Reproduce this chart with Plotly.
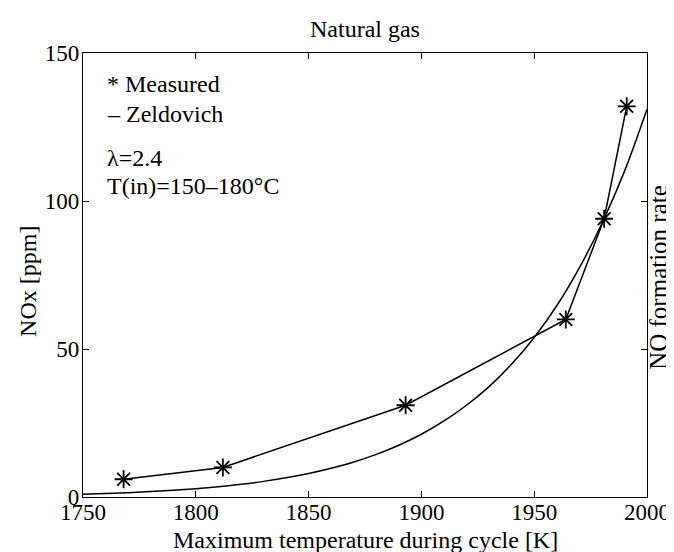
import plotly.graph_objects as go

# Measured data
meas_T = [1768, 1812, 1893, 1964, 1981, 1991]
meas_nox = [6, 10, 31, 60, 94, 132]

# Zeldovich curve
zel_T = [1750, 1760, 1770, 1780, 1790, 1800, 1810, 1820, 1830, 1840, 1850,
         1860, 1870, 1880, 1890, 1900, 1910, 1920, 1930, 1940, 1950,
         1960, 1970, 1980, 1990, 2000]
zel_nox = [0.94, 1.18, 1.47, 1.83, 2.27, 2.81, 3.48, 4.29, 5.28, 6.48, 7.94,
           9.71, 11.8, 14.4, 17.5, 21.2, 25.7, 31.0, 37.3, 44.9, 53.9,
           64.6, 77.4, 92.4, 110, 131]

x_ticks = [1750, 1800, 1850, 1900, 1950, 2000]
y_ticks = [0, 50, 100, 150]

W, H = 674, 552
L, R, T, B = 75, 26, 45, 63
FONT = "Liberation Serif, Times New Roman, serif"

def px(x):
    return (x - L) / (W - L - R)

def py(y):
    return (H - B - y) / (H - T - B)

fig = go.Figure()
fig.add_trace(go.Scatter(x=zel_T, y=zel_nox, mode="lines",
                         line=dict(color="black", width=1.5, shape="spline"),
                         showlegend=False))
fig.add_trace(go.Scatter(x=meas_T, y=meas_nox, mode="lines+markers",
                         line=dict(color="black", width=1.5),
                         marker=dict(symbol="asterisk-open", size=15,
                                     line=dict(color="black", width=1.8)),
                         showlegend=False))

axis_common = dict(showline=True, linecolor="black", linewidth=1.2, mirror="allticks",
                   ticks="inside", ticklen=6, tickcolor="black", tickwidth=1,
                   showgrid=False, zeroline=False,
                   tickfont=dict(family=FONT, size=23, color="black"))

fig.update_layout(
    width=W, height=H,
    margin=dict(l=L, r=R, t=T, b=B),
    paper_bgcolor="white", plot_bgcolor="white",
    xaxis=dict(range=[1750, 2000], tickvals=x_ticks, ticktext=[str(v) for v in x_ticks],
               ticklabelstandoff=-6, **axis_common),
    yaxis=dict(range=[0, 150], tickvals=y_ticks, ticktext=[str(v) for v in y_ticks],
               ticklabelstandoff=-2, **axis_common),
    font=dict(family=FONT, size=24, color="black"),
)

ann = [
    dict(text="Natural gas", x=0.5, y=py(21), xanchor="center", yanchor="middle", size=24),
    dict(text="Maximum temperature during cycle [K]", x=0.5, y=py(532),
         xanchor="center", yanchor="middle", size=24),
    dict(text="NOx [ppm]", x=px(19), y=py(273), xanchor="center", yanchor="middle",
         textangle=-90, size=24),
    dict(text="NO formation rate", x=px(659), y=py(269), xanchor="center",
         yanchor="middle", textangle=-90, size=25),
    dict(text="* Measured", x=px(97), y=py(76), xanchor="left", yanchor="middle", size=24),
    dict(text="\u2013 Zeldovich", x=px(97), y=py(106), xanchor="left", yanchor="middle", size=24),
    dict(text="\u03bb=2.4", x=px(97), y=py(150), xanchor="left", yanchor="middle", size=24),
    dict(text="T(in)=150\u2013180\u00b0C", x=px(97), y=py(178), xanchor="left",
         yanchor="middle", size=24),
]
for a in ann:
    s = a.pop("size")
    fig.add_annotation(xref="paper", yref="paper", showarrow=False,
                       font=dict(family=FONT, size=s, color="black"), **a)

fig.write_html("out.html")
